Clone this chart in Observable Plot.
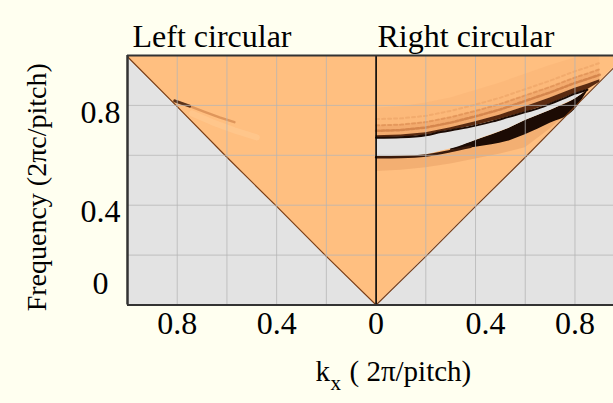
<!DOCTYPE html>
<html><head><meta charset="utf-8">
<script src="https://cdn.jsdelivr.net/npm/d3@7"></script>
<script src="https://cdn.jsdelivr.net/npm/@observablehq/plot@0.6"></script>
<style>
html,body{margin:0;padding:0;background:#fffff0;overflow:hidden;}
#chart svg{display:block;}
</style></head><body><div id="chart"></div>
<script>
// ---- data ----
const panelTitles = ["Left circular", "Right circular"];
const xTitle = ["k", "x", "( 2π/pitch)"];
const yTitle = "Frequency (2πc/pitch)";
const xTickValues = [-0.8, -0.4, 0, 0.4, 0.8];
const xTickLabels = ["0.8", "0.4", "0", "0.4", "0.8"];
const yTickValues = [0, 0.4, 0.8];
const yTickLabels = ["0", "0.4", "0.8"];
const gridX = [-0.8, -0.6, -0.4, -0.2, 0.2, 0.4, 0.6, 0.8];
const gridY = [0.2, 0.4, 0.6, 0.8];

// light-line (edge of the orange cone)
const lightK = [0, 0.2, 0.4, 0.6, 0.8, 1.0];
const lightF = [0, 0.195, 0.395, 0.592, 0.795, 0.995];

// right circular: band gap
const bandK   = [0, 0.1, 0.2, 0.26, 0.33, 0.4, 0.47, 0.53, 0.6, 0.67, 0.7, 0.75, 0.8, 0.85];
const gapTopF = [0.670, 0.672, 0.680, 0.693, 0.705, 0.719, 0.736, 0.753, 0.773, 0.794, 0.806, 0.826, 0.847, 0.863];
const gapBotF = [0.595, 0.596, 0.602, 0.616, 0.633, 0.659, 0.684, 0.706, 0.739, 0.768, 0.780, 0.803, 0.826, 0.863];

// upper dark band and its ripples
const upperK   = [0, 0.1, 0.2, 0.3, 0.4, 0.5, 0.6, 0.7, 0.8, 0.85, 0.9];
const upperLoF = [0.668, 0.671, 0.679, 0.698, 0.719, 0.745, 0.773, 0.806, 0.847, 0.863, 0.893];
const upperHiF = [0.678, 0.681, 0.690, 0.710, 0.734, 0.762, 0.795, 0.830, 0.869, 0.885, 0.903];
const ripple1F = [0.698, 0.701, 0.711, 0.731, 0.756, 0.784, 0.818, 0.852, 0.890, 0.906, 0.923];
const ripple2F = [0.720, 0.723, 0.733, 0.753, 0.778, 0.806, 0.840, 0.874, 0.912, 0.928, 0.945];
const ripple3F = [0.745, 0.748, 0.758, 0.778, 0.803, 0.831, 0.865, 0.899, 0.937, 0.953, 0.970];
const hazeTopF = [0.790, 0.795, 0.810, 0.830, 0.860, 0.890, 0.925, 0.960, 0.990, 1.0, 1.0];

// lower band: black wedge and haze
const wedgeK    = [0.3, 0.4, 0.53, 0.6, 0.7, 0.8, 0.855];
const wedgeTopF = [0.626, 0.659, 0.706, 0.739, 0.780, 0.826, 0.864];
const wedgeBotF = [0.619, 0.632, 0.656, 0.682, 0.728, 0.784, 0.864];
const lowerK    = [0, 0.1, 0.2, 0.3, 0.4, 0.5, 0.6, 0.7, 0.8];
const lowerHiF  = [0.595, 0.596, 0.602, 0.621, 0.639, 0.657, 0.690, 0.740, 0.793];
const lowerLoF  = [0.535, 0.540, 0.550, 0.565, 0.585, 0.605, 0.630, 0.705, 0.795];
const lowerLineK = [0, 0.1, 0.2, 0.3, 0.38];
const lowerLineF = [0.592, 0.593, 0.599, 0.617, 0.634];

// left circular: faint streak
const streakK = [-0.81, -0.75, -0.69, -0.63, -0.57];
const streakF = [0.818, 0.797, 0.774, 0.752, 0.733];
const paleK = [-0.74, -0.66, -0.57, -0.48];
const paleF = [0.768, 0.733, 0.700, 0.672];

// ---- chart ----
const orange = "#ffbf80";
const gray = "#e3e3e3";
const leftK = lightK.map(k => -k);

const chart = Plot.plot({
  width: 613, height: 403,
  marginLeft: 127, marginRight: 0, marginTop: 55, marginBottom: 98.5,
  x: {domain: [-1, 0.955], axis: null},
  y: {domain: [0, 1], axis: null},
  style: {background: "#fffff0", fontFamily: "'Liberation Serif', 'Times New Roman', serif", color: "#000"},
  marks: [
    Plot.frame({fill: gray, stroke: null}),
    // light cones
    Plot.areaY(lightK, {x: leftK, y1: lightF, y2: 1, fill: orange, clip: true}),
    Plot.areaY(lightK, {x: lightK, y1: lightF, y2: 1, fill: orange, clip: true}),
    // ripple haze above upper band
    Plot.areaY(upperK, {x: upperK, y1: upperHiF, y2: hazeTopF, fill: "#e89458", fillOpacity: 0.13, clip: true}),
    Plot.areaY(upperK, {x: upperK, y1: upperHiF, y2: ripple2F, fill: "#d8824a", fillOpacity: 0.25, clip: true}),
    Plot.line(upperK, {x: upperK, y: ripple1F, stroke: "#b8622c", strokeWidth: 2.5, strokeOpacity: 0.5, strokeDasharray: "3 2", clip: true}),
    Plot.line(upperK, {x: upperK, y: ripple2F, stroke: "#c8723a", strokeWidth: 2, strokeOpacity: 0.35, strokeDasharray: "3 3", clip: true}),
    Plot.line(upperK, {x: upperK, y: ripple3F, stroke: "#d07a40", strokeWidth: 2, strokeOpacity: 0.22, strokeDasharray: "3 3", clip: true}),
    // upper dark band
    Plot.areaY(upperK, {x: upperK, y1: upperLoF, y2: upperHiF, fill: "#5a2a10", clip: true}),
    // lower haze
    Plot.areaY(lowerK, {x: lowerK, y1: lowerLoF, y2: lowerHiF, fill: "#c87840", fillOpacity: 0.22, clip: true}),
    // black wedge
    Plot.areaY(wedgeK, {x: wedgeK, y1: wedgeBotF, y2: wedgeTopF, fill: "#1c0b04", curve: "monotone-x", clip: true}),
    // gap
    Plot.areaY(bandK, {x: bandK, y1: gapBotF, y2: gapTopF, fill: gray, curve: "monotone-x", clip: true}),
    Plot.line(bandK, {x: bandK, y: gapTopF, stroke: "#1a0a04", strokeWidth: 2, curve: "monotone-x", clip: true}),
    Plot.line(lowerLineK, {x: lowerLineK, y: lowerLineF, stroke: "#3a1a0a", strokeWidth: 2.5, curve: "monotone-x", clip: true}),
    // left streak
    Plot.line(paleK, {x: paleK, y: paleF, stroke: "#ffcf98", strokeWidth: 6, strokeOpacity: 0.45}),
    Plot.line(streakK, {x: streakK, y: streakF, stroke: "#b05a22", strokeWidth: 2.5, strokeOpacity: 0.4}),
    Plot.line(streakK.slice(0, 2), {x: streakK.slice(0, 2), y: streakF.slice(0, 2), stroke: "#3a1a0a", strokeWidth: 3, strokeOpacity: 0.8}),
    // cone edges
    Plot.line(lightK, {x: leftK, y: lightF, stroke: "#7a3e16", strokeWidth: 1.2, clip: true}),
    Plot.line(lightK, {x: lightK, y: lightF, stroke: "#7a3e16", strokeWidth: 1.2, clip: true}),
    // grid
    Plot.ruleX(gridX, {stroke: "#b4b4b4", strokeWidth: 1, strokeOpacity: 0.75}),
    Plot.ruleY(gridY, {stroke: "#b4b4b4", strokeWidth: 1, strokeOpacity: 0.75}),
    // centre line & frame
    Plot.ruleX([0], {stroke: "#000", strokeWidth: 1.6}),
    Plot.ruleX([-1], {stroke: "#333", strokeWidth: 2.5}),
    Plot.ruleY([0], {stroke: "#333", strokeWidth: 2}),
    Plot.ruleY([1], {stroke: "#333", strokeWidth: 2}),
    // titles
    Plot.text([panelTitles[0]], {text: d => d, frameAnchor: "top-left", dx: 5, dy: -31, textAnchor: "start", fontSize: 32}),
    Plot.text([panelTitles[1]], {text: d => d, frameAnchor: "top-left", dx: 250, dy: -31, textAnchor: "start", fontSize: 32}),
    // x tick labels
    Plot.text(xTickValues, {filter: (d, i) => i !== 3, x: d => d, text: (d, i) => xTickLabels[i], frameAnchor: "bottom", dy: 29, fontSize: 32}),
    Plot.text(xTickValues, {filter: (d, i) => i === 3, x: d => d, text: (d, i) => xTickLabels[i], frameAnchor: "bottom", dx: 10, dy: 29, fontSize: 32}),
    // y tick labels
    Plot.text(yTickValues, {filter: d => d > 0, y: d => d, text: (d, i) => yTickLabels[i], frameAnchor: "left", dx: -27, dy: 7, textAnchor: "middle", fontSize: 32}),
    Plot.text(yTickValues, {filter: d => d === 0, y: d => d, text: (d, i) => yTickLabels[i], frameAnchor: "left", dx: -27, dy: -21.5, textAnchor: "middle", fontSize: 32}),
    // axis titles
    Plot.text([yTitle], {text: d => d, frameAnchor: "left", textAnchor: "middle", rotate: -90, dx: -90, dy: 7, fontSize: 28}),
    Plot.text([xTitle[0]], {text: d => d, frameAnchor: "bottom", dx: -55, dy: 75.5, textAnchor: "start", fontSize: 29}),
    Plot.text([xTitle[1]], {text: d => d, frameAnchor: "bottom", dx: -40, dy: 85, textAnchor: "start", fontSize: 21}),
    Plot.text([xTitle[2]], {text: d => d, frameAnchor: "bottom", dx: -21, dy: 75.5, textAnchor: "start", fontSize: 29})
  ]
});
document.getElementById("chart").appendChild(chart);
</script></body></html>
